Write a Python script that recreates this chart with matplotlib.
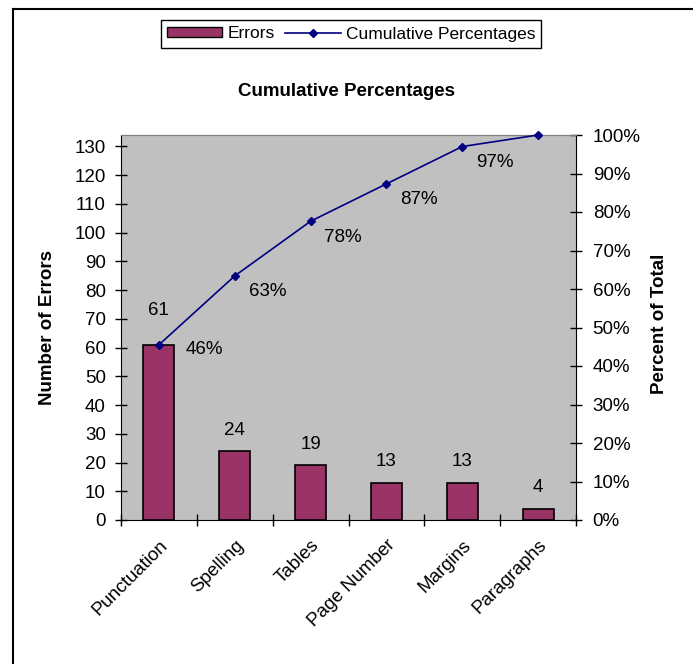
import matplotlib
matplotlib.use("Agg")
import matplotlib.pyplot as plt
import matplotlib.transforms as mtransforms
from matplotlib.lines import Line2D
from matplotlib.ticker import FixedLocator

plt.rcParams['font.family'] = ['Liberation Sans', 'DejaVu Sans']

categories = ['Punctuation', 'Spelling', 'Tables', 'Page Number', 'Margins', 'Paragraphs']
errors = [61, 24, 19, 13, 13, 4]
cum_pct = [45.5, 63.4, 77.6, 87.3, 97.0, 100.0]
pct_labels = ['46%', '63%', '78%', '87%', '97%']
total = 134

bar_color = '#993366'
line_color = '#000080'
fs = 13.5

fig = plt.figure(figsize=(6.93, 6.64), dpi=100)
ax = fig.add_axes([121 / 693, 1 - 520 / 664, 455 / 693, 385 / 664])
ax.set_facecolor('#C0C0C0')

x = list(range(len(categories)))
ax.bar(x, errors, width=0.41, color=bar_color, edgecolor='black', linewidth=1.2, zorder=2)
ax.set_xlim(-0.5, len(categories) - 0.5)
ax.set_ylim(0, total)
ax.set_yticks(range(0, 131, 10))
ax.tick_params(axis='y', direction='inout', length=8, width=1, labelsize=fs, pad=7)

ax.set_xticks(x)
ax.set_xticklabels(categories, rotation=45, ha='right', rotation_mode='anchor', fontsize=fs)
shift = mtransforms.ScaledTranslation(-8 / 100, 0, fig.dpi_scale_trans)
for lab in ax.get_xticklabels():
    lab.set_transform(lab.get_transform() + shift)
ax.xaxis.set_minor_locator(FixedLocator([i - 0.5 for i in range(len(categories) + 1)]))
ax.tick_params(axis='x', which='major', length=0, pad=12)
ax.tick_params(axis='x', which='minor', direction='inout', length=8, width=1)

ax.spines['top'].set_color('#808080')
ax.spines['left'].set_color('black')
ax.spines['bottom'].set_color('black')
ax.spines['right'].set_visible(False)

# count labels above the bars
for i, v in enumerate(errors):
    dy = 25 if i == 0 else 15
    ax.annotate(str(v), (i, v), xytext=(0, dy), textcoords='offset points',
                ha='center', va='center', fontsize=fs)

ax2 = ax.twinx()
ax2.set_ylim(0, 100)
ax2.set_yticks(range(0, 101, 10))
ax2.set_yticklabels([f'{t}%' for t in range(0, 101, 10)])
ax2.tick_params(axis='y', direction='inout', length=8, width=1, labelsize=fs, pad=8)
ax2.spines['right'].set_color('black')
ax2.spines['top'].set_color('#808080')
ax2.spines['left'].set_visible(False)
ax2.spines['bottom'].set_visible(False)
ax2.plot(x, cum_pct, color=line_color, marker='D', markersize=4, linewidth=1.2,
         zorder=3, clip_on=False)

for i, lab in enumerate(pct_labels):
    dx, dy = (19, -3.5) if i == 0 else (10, -11.5)
    ax2.annotate(lab, (i, cum_pct[i]), xytext=(dx, dy), textcoords='offset points',
                 ha='left', va='center', fontsize=fs)

ax.set_ylabel('Number of Errors', fontsize=fs, fontweight='bold')
ax.yaxis.set_label_coords((56 - 121) / 455, 0.5)
ax2.set_ylabel('Percent of Total', fontsize=fs, fontweight='bold')
ax2.yaxis.set_label_coords((651 - 121) / 455, 0.51)
fig.text(347 / 693, 1 - 91 / 664, 'Cumulative Percentages', ha='center', va='center',
         fontsize=fs, fontweight='bold')

handles = [plt.Rectangle((0, 0), 1, 1, facecolor=bar_color, edgecolor='black'),
           Line2D([], [], color=line_color, marker='D', markersize=4, linewidth=1.2)]
leg = fig.legend(handles, ['Errors', 'Cumulative Percentages'], loc='center',
                 bbox_to_anchor=(351 / 693, 1 - 34 / 664), ncol=2, fontsize=12.5,
                 frameon=True, fancybox=False, edgecolor='black', framealpha=1,
                 handlelength=3.2, handleheight=0.5, columnspacing=0.6,
                 handletextpad=0.3, borderpad=0.35)
leg.get_frame().set_linewidth(1)

# outer chart border (left and top only visible)
fig.add_artist(Line2D([13 / 693, 13 / 693], [0, 1 - 9 / 664], color='black', linewidth=1.5))
fig.add_artist(Line2D([13 / 693, 1], [1 - 9 / 664, 1 - 9 / 664], color='black', linewidth=1.5))

fig.savefig('out.png', dpi=100)
